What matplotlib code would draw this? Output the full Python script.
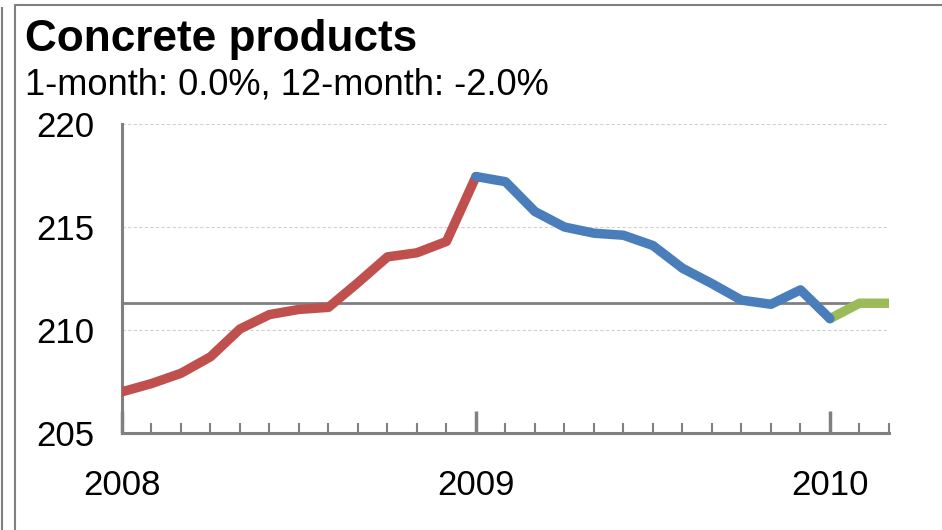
import matplotlib.pyplot as plt
import numpy as np
from matplotlib.lines import Line2D
from matplotlib.patches import Rectangle

plt.rcParams['font.family'] = ['Liberation Sans', 'DejaVu Sans']

# monthly index values, Jan 2008 - Mar 2010
months_2008 = np.arange(0, 13)
idx_2008 = [207.0, 207.4, 207.9, 208.7, 210.05, 210.75, 211.0, 211.1,
            212.3, 213.55, 213.75, 214.3, 217.45]
months_2009 = np.arange(12, 25)
idx_2009 = [217.45, 217.2, 215.75, 215.0, 214.7, 214.6, 214.1, 213.0,
            212.25, 211.45, 211.25, 211.95, 210.55]
months_2010 = np.arange(24, 27)
idx_2010 = [210.55, 211.3, 211.3]
ref_level = 211.3

year_ticks = [0, 12, 24]
year_labels = ['2008', '2009', '2010']
y_ticks = [205, 210, 215, 220]

fig = plt.figure(figsize=(9.42, 5.30), dpi=100)
ax = fig.add_axes([0.1295, 0.183, 0.8142, 0.583])

ax.axhline(ref_level, color='#808080', linewidth=2, zorder=2)
ax.plot(months_2008, idx_2008, color='#C0504D', linewidth=6.8, solid_capstyle='round', zorder=3)
ax.plot(months_2009, idx_2009, color='#4A7EBB', linewidth=6.8, solid_capstyle='round', zorder=4)
ax.plot(months_2010, idx_2010, color='#9BBB59', linewidth=6.8, solid_capstyle='round', zorder=3)

ax.set_xlim(0, 26)
ax.set_ylim(205, 220)
ax.set_yticks(y_ticks)
ax.set_xticks(year_ticks)
ax.set_xticklabels(year_labels)
ax.set_xticks(np.arange(0, 27), minor=True)

for yv in y_ticks[1:]:
    ax.axhline(yv, color='#d0d0d0', linewidth=0.8, linestyle=(0, (3, 2)), zorder=1)

for s in ['top', 'right']:
    ax.spines[s].set_visible(False)
for s in ['left', 'bottom']:
    ax.spines[s].set_color('#808080')
    ax.spines[s].set_linewidth(2.2)

ax.tick_params(axis='y', length=0, pad=20, labelsize=25)
ax.tick_params(axis='x', which='major', direction='in', length=16, width=2.5,
               color='#808080', pad=26, labelsize=25)
ax.tick_params(axis='x', which='minor', direction='in', length=7, width=1.5,
               color='#808080')

fig.text(25 / 942, 1 - 39 / 530, 'Concrete products', fontsize=31.8,
         fontweight='bold', va='center', ha='left')
fig.text(25 / 942, 1 - 85 / 530, '1-month: 0.0%, 12-month: -2.0%',
         fontsize=26.1, va='center', ha='left')

# outer frame
fig.patches.append(Rectangle((15 / 942, -0.1), 1.2, 1 - 5 / 530 + 0.1,
                             transform=fig.transFigure, fill=False,
                             edgecolor='#808080', linewidth=1.5))
fig.lines.append(Line2D([2 / 942, 2 / 942], [0, 1 - 8 / 530],
                        transform=fig.transFigure, color='#808080', linewidth=1.5))

fig.savefig('out.png', dpi=100)
